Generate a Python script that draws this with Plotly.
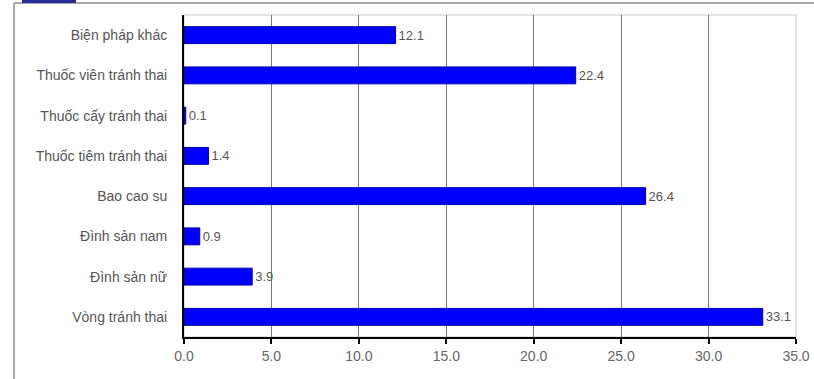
import plotly.graph_objects as go

# Contraceptive methods (top to bottom) and their shares (%)
methods = [
    "Biện pháp khác",
    "Thuốc viên tránh thai",
    "Thuốc cấy tránh thai",
    "Thuốc tiêm tránh thai",
    "Bao cao su",
    "Đình sản nam",
    "Đình sản nữ",
    "Vòng tránh thai",
]
shares = [12.1, 22.4, 0.1, 1.4, 26.4, 0.9, 3.9, 33.1]
x_ticks = [0, 5, 10, 15, 20, 25, 30, 35]
x_tick_labels = ["0.0", "5.0", "10.0", "15.0", "20.0", "25.0", "30.0", "35.0"]

W, H = 814, 379
L, R, T, B = 184, 18, 15, 42
pw, ph = W - L - R, H - T - B

FONT = "Liberation Sans, Arial"


def px_x(p):
    return (p - L) / pw


def px_y(p):
    return 1 - (p - T) / ph


fig = go.Figure(
    go.Bar(
        x=shares,
        y=methods,
        orientation="h",
        width=0.42,
        marker=dict(color="#0000ff", line=dict(color="#0000b0", width=1)),
        text=[f"{v:.1f}" for v in shares],
        textposition="outside",
        textfont=dict(family=FONT, size=13, color="#555"),
        cliponaxis=False,
        hoverinfo="skip",
    )
)

fig.update_layout(
    width=W,
    height=H,
    margin=dict(l=L, r=R, t=T, b=B, autoexpand=False),
    paper_bgcolor="white",
    plot_bgcolor="white",
    showlegend=False,
    font=dict(family=FONT, size=13, color="#555"),
    shapes=[
        # plot area frame
        dict(type="rect", xref="paper", yref="paper", x0=0, y0=0, x1=1, y1=1,
             line=dict(color="#c8c8c8", width=1), layer="below"),
        # outer panel border: left and top edges
        dict(type="line", xref="paper", yref="paper",
             x0=px_x(14), x1=px_x(14), y0=px_y(3), y1=px_y(H + 2),
             line=dict(color="#a8a8a8", width=2)),
        dict(type="line", xref="paper", yref="paper",
             x0=px_x(14), x1=px_x(W + 2), y0=px_y(3), y1=px_y(3),
             line=dict(color="#a8a8a8", width=2)),
        # title tab strip in the corner
        dict(type="rect", xref="paper", yref="paper",
             x0=px_x(22), x1=px_x(76), y0=px_y(3), y1=px_y(-2),
             line=dict(width=0), fillcolor="#2a2a9a"),
    ],
)

fig.update_xaxes(
    range=[0, 35],
    tickvals=x_ticks,
    ticktext=x_tick_labels,
    showgrid=True,
    gridcolor="#7a7a7a",
    gridwidth=1,
    zeroline=False,
    showline=True,
    linecolor="black",
    linewidth=2,
    ticks="outside",
    ticklen=5,
    tickwidth=2,
    tickcolor="black",
    tickfont=dict(family=FONT, size=14, color="#666"),
    automargin=False,
    fixedrange=True,
)
fig.update_yaxes(
    autorange="reversed",
    showgrid=False,
    zeroline=False,
    showline=True,
    linecolor="black",
    linewidth=2,
    ticks="",
    ticklabelstandoff=12,
    tickfont=dict(family=FONT, size=14, color="#555"),
    automargin=False,
    fixedrange=True,
)

fig.write_html("out.html", config={"displayModeBar": False})
